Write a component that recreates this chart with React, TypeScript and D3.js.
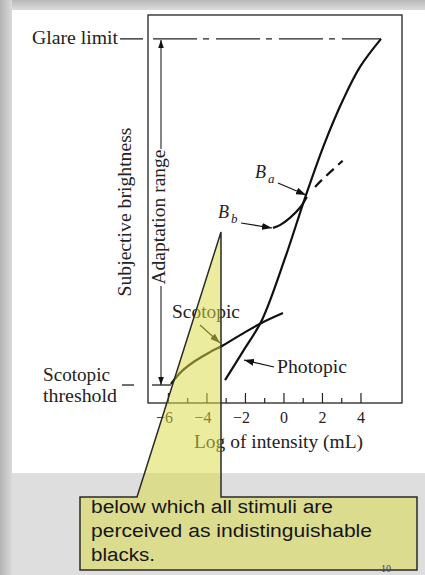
import React from "react";
import * as d3 from "d3";

// ---- data (log intensity mL, subjective brightness: 0 = scotopic threshold, 10 = glare limit)
const photopicX = [-3.06, -2.12, -1.14, 0.06, 1.09, 2.08, 3.07, 3.95, 5.04];
const photopicY = [0.14, 0.98, 1.88, 3.67, 5.4, 6.94, 8.24, 9.19, 10.0];
const scotopicX = [-5.87, -5.3, -4.6, -3.84, -3.15, -2.1, -1.14, -0.05];
const scotopicY = [0.03, 0.4, 0.7, 0.95, 1.15, 1.5, 1.8, 2.08];
const bbX = [-0.57, -0.21, 0.31, 0.83, 1.19];
const bbY = [4.54, 4.62, 4.83, 5.12, 5.43];
const bbDashX = [1.19, 1.71, 3.27];
const bbDashY = [5.43, 5.78, 6.59];
const glareLevel = 10;
const thresholdLevel = 0;
const glareEndX = 5.04;
const majorTicks = [-6, -4, -2, 0, 2, 4];
const minorTicks = [-5, -3, -1, 1, 3];
const calloutLines = ["below which all stimuli are", "perceived as indistinguishable", "blacks."];

const W = 425;
const H = 575;
const serif = "'Liberation Serif', 'DejaVu Serif', serif";
const sans = "'Liberation Sans', Arial, sans-serif";

export default function App() {
  const x = d3.scaleLinear().domain([-7.06, 6.13]).range([148, 402]);
  const y = d3.scaleLinear().domain([-0.52, 10.69]).range([403, 15]);
  const line = d3
    .line<[number, number]>()
    .x((d) => x(d[0]))
    .y((d) => y(d[1]))
    .curve(d3.curveCatmullRom.alpha(0.5));
  const zip = (a: number[], b: number[]) => a.map((v, i) => [v, b[i]] as [number, number]);

  const [x0, x1] = x.range();
  const [yb, yt] = y.range();
  const gy = y(glareLevel);
  const ty = y(thresholdLevel);

  return (
    <svg
      width={W}
      height={H}
      style={{ position: "absolute", left: 0, top: 0, display: "block" }}
      xmlns="http://www.w3.org/2000/svg"
    >
      <defs>
        <linearGradient id="lshadow" x1="0" x2="1" y1="0" y2="0">
          <stop offset="0" stopColor="#b4b4b4" />
          <stop offset="1" stopColor="#dadada" />
        </linearGradient>
        <linearGradient id="tshadow" x1="0" x2="0" y1="0" y2="1">
          <stop offset="0" stopColor="#b8b8b8" />
          <stop offset="1" stopColor="#dcdcdc" />
        </linearGradient>
        <marker id="ah" viewBox="0 0 10 7" refX="10" refY="3.5" markerWidth="10" markerHeight="7" markerUnits="userSpaceOnUse" orient="auto">
          <path d="M0,0 L10,3.5 L0,7 z" fill="#111" />
        </marker>
        <marker id="ahs" viewBox="0 0 10 7" refX="10" refY="3.5" markerWidth="8" markerHeight="6" markerUnits="userSpaceOnUse" orient="auto">
          <path d="M0,0 L10,3.5 L0,7 z" fill="#111" />
        </marker>
      </defs>

      {/* page background */}
      <rect x={0} y={0} width={W} height={H} fill="#d6d6d6" />
      <rect x={0} y={0} width={W} height={10} fill="url(#tshadow)" />
      <rect x={0} y={0} width={12} height={H} fill="url(#lshadow)" />
      <rect x={12} y={10} width={W - 12} height={463} fill="#ffffff" />
      <rect x={12} y={473} width={W - 12} height={H - 473} fill="#dedede" />

      {/* plot frame */}
      <rect x={x0} y={yt} width={x1 - x0} height={yb - yt} fill="none" stroke="#222" strokeWidth={1.3} />

      {/* ticks */}
      {majorTicks.map((t) => (
        <line key={"M" + t} x1={x(t)} x2={x(t)} y1={yb} y2={yb - 10} stroke="#222" strokeWidth={1.2} />
      ))}
      {minorTicks.map((t) => (
        <line key={"m" + t} x1={x(t)} x2={x(t)} y1={yb} y2={yb - 5} stroke="#222" strokeWidth={1.2} />
      ))}
      {majorTicks.map((t) =>
        t < 0 ? (
          <text key={"l" + t} x={x(t) + 4.5} y={423} fontFamily={serif} fontSize={16} textAnchor="end" fill="#222">
            {"\u2212" + Math.abs(t)}
          </text>
        ) : (
          <text key={"l" + t} x={x(t)} y={423} fontFamily={serif} fontSize={16} textAnchor="middle" fill="#222">
            {String(t)}
          </text>
        )
      )}
      <text x={278.5} y={448} fontFamily={serif} fontSize={18} textAnchor="middle" textLength={169} lengthAdjust="spacingAndGlyphs" fill="#222">
        Log of intensity (mL)
      </text>

      {/* y labels */}
      <text transform="translate(131,212) rotate(-90)" fontFamily={serif} fontSize={18} textAnchor="middle" textLength={169} lengthAdjust="spacingAndGlyphs" fill="#222">
        Subjective brightness
      </text>
      <text transform="translate(165,217) rotate(-90)" fontFamily={serif} fontSize={18} textAnchor="middle" textLength={135} lengthAdjust="spacingAndGlyphs" fill="#222">
        Adaptation range
      </text>
      <line x1={161} x2={161} y1={149} y2={gy + 1} stroke="#222" strokeWidth={1.1} markerEnd="url(#ahs)" />
      <line x1={161} x2={161} y1={286} y2={ty} stroke="#222" strokeWidth={1.1} markerEnd="url(#ahs)" />

      {/* glare limit */}
      <text x={32} y={44} fontFamily={serif} fontSize={18} textLength={86} lengthAdjust="spacingAndGlyphs" fill="#222">
        Glare limit
      </text>
      <line x1={120} x2={143} y1={gy} y2={gy} stroke="#222" strokeWidth={1.3} />
      <line x1={153} x2={x(glareEndX)} y1={gy} y2={gy} stroke="#222" strokeWidth={1.3} strokeDasharray="44 6 6 7" />

      {/* scotopic threshold */}
      <text x={43} y={381} fontFamily={serif} fontSize={18} textLength={67} lengthAdjust="spacingAndGlyphs" fill="#222">
        Scotopic
      </text>
      <text x={43} y={402} fontFamily={serif} fontSize={18} textLength={74} lengthAdjust="spacingAndGlyphs" fill="#222">
        threshold
      </text>
      <line x1={122} x2={134} y1={ty} y2={ty} stroke="#222" strokeWidth={1.3} />
      <line x1={152} x2={171} y1={ty} y2={ty} stroke="#222" strokeWidth={1.3} />

      {/* curves */}
      <path d={line(zip(scotopicX, scotopicY)) || ""} fill="none" stroke="#111" strokeWidth={2.2} />
      <path d={line(zip(photopicX, photopicY)) || ""} fill="none" stroke="#111" strokeWidth={2.2} />
      <path d={line(zip(bbX, bbY)) || ""} fill="none" stroke="#111" strokeWidth={2.2} />
      <path d={line(zip(bbDashX, bbDashY)) || ""} fill="none" stroke="#111" strokeWidth={2.2} strokeDasharray="0 13 10 6 10 6 6 40" />

      {/* curve annotations */}
      <text x={255} y={178} fontFamily={serif} fontSize={18} fontStyle="italic" fill="#222">B</text>
      <text x={268} y={183} fontFamily={serif} fontSize={13} fontStyle="italic" fill="#222">a</text>
      <line x1={278} y1={183} x2={306} y2={195} stroke="#111" strokeWidth={1.2} markerEnd="url(#ah)" />
      <text x={218} y={218} fontFamily={serif} fontSize={18} fontStyle="italic" fill="#222">B</text>
      <text x={231} y={223} fontFamily={serif} fontSize={13} fontStyle="italic" fill="#222">b</text>
      <line x1={241} y1={223} x2={272} y2={228} stroke="#111" strokeWidth={1.2} markerEnd="url(#ah)" />
      <text x={172} y={318} fontFamily={serif} fontSize={18} textLength={68} lengthAdjust="spacingAndGlyphs" fill="#222">
        Scotopic
      </text>
      <line x1={200} y1={325} x2={220} y2={343} stroke="#111" strokeWidth={1.2} markerEnd="url(#ah)" />
      <text x={277} y={373} fontFamily={serif} fontSize={18} textLength={70} lengthAdjust="spacingAndGlyphs" fill="#222">
        Photopic
      </text>
      <line x1={274} y1={367} x2={244} y2={360} stroke="#111" strokeWidth={1.2} markerEnd="url(#ah)" />

      {/* callout */}
      <path
        d="M80,497 L137,497 L221,232 L221,497 L417,497 L417,570 L80,570 Z"
        fill="rgb(218,218,70)"
        fillOpacity={0.52}
        stroke="#2a2a2a"
        strokeWidth={1.5}
        strokeLinejoin="miter"
      />
      {calloutLines.map((s, i) => (
        <text
          key={i}
          x={91}
          y={513 + i * 24}
          fontFamily={sans}
          fontSize={18}
          fill="#151515"
          textLength={[242, 281, 64][i]}
          lengthAdjust="spacingAndGlyphs"
        >
          {s}
        </text>
      ))}
      <text x={386} y={572} fontFamily={serif} fontSize={10} textAnchor="middle" fill="#3b3b80">
        10
      </text>
    </svg>
  );
}
